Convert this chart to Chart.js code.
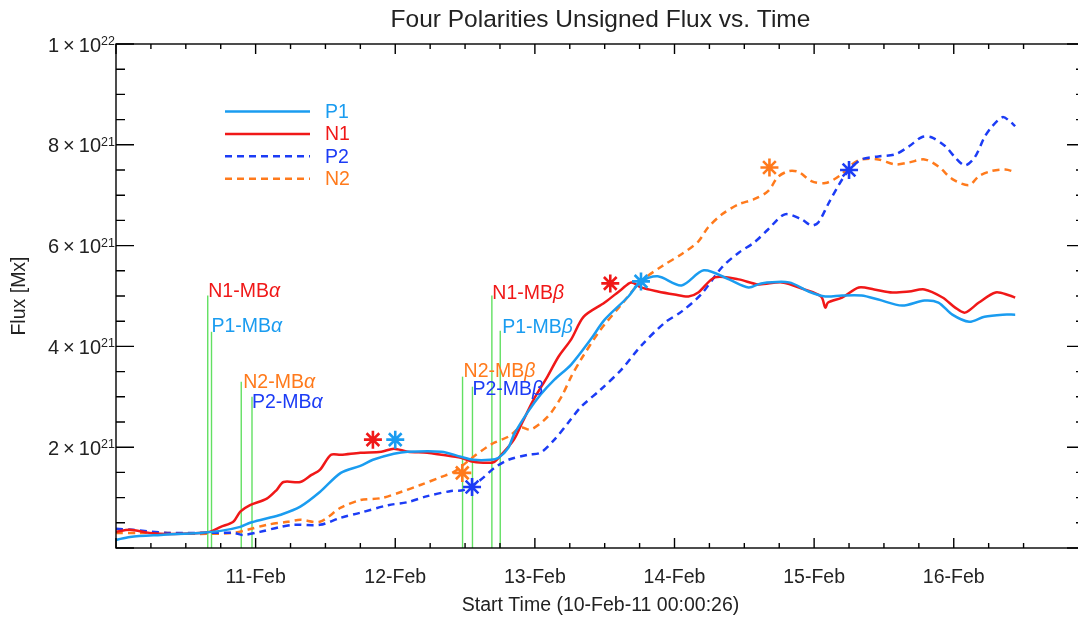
<!DOCTYPE html>
<html>
<head>
<meta charset="utf-8">
<script src="https://cdn.jsdelivr.net/npm/chart.js@4.4.1/dist/chart.umd.min.js"></script>
<style>
  html, body { margin: 0; padding: 0; background: #fff; overflow: hidden; }
  canvas { display: block; }
</style>
</head>
<body>
<canvas id="chart" width="1103" height="618"></canvas>
<script>
// time in days after 10-Feb-11 00:00:26, flux in units of 1e21 Mx
const p1T = [0,0.10,0.32,0.60,0.75,0.89,0.96,1.07,1.18,1.32,1.46,1.61,1.75,1.84,1.99,2.09,2.33,2.47,2.56,2.68,2.74,2.81,2.85,2.95,3.04,3.14,3.26,3.40,3.50,3.67,3.76,3.88,4.05,4.21,4.39,4.53,4.62,4.82,4.96,5.08,5.20,5.34,5.46,5.63,5.79,5.89,5.99,6.11,6.22,6.35,6.44];
const p1V = [0.16,0.22,0.26,0.30,0.34,0.42,0.50,0.58,0.66,0.82,1.11,1.49,1.63,1.75,1.87,1.91,1.91,1.81,1.75,1.75,1.79,1.99,2.25,2.70,3.04,3.34,3.64,4.14,4.53,4.99,5.29,5.39,5.21,5.51,5.33,5.17,5.25,5.27,5.09,4.99,5.01,5.01,4.93,4.81,4.91,4.87,4.63,4.49,4.59,4.63,4.63];

const n1T = [0,0.10,0.24,0.37,0.60,0.67,0.75,0.84,0.89,0.96,1.08,1.15,1.20,1.32,1.40,1.46,1.54,1.61,1.75,1.90,1.99,2.09,2.23,2.33,2.47,2.56,2.66,2.71,2.76,2.85,2.91,2.99,3.09,3.17,3.26,3.35,3.50,3.62,3.69,3.76,3.88,4.00,4.10,4.17,4.29,4.46,4.60,4.77,4.93,5.05,5.08,5.10,5.20,5.32,5.43,5.56,5.68,5.79,5.92,6.01,6.08,6.18,6.30,6.40,6.44];
const n1V = [0.32,0.36,0.30,0.28,0.30,0.32,0.42,0.52,0.72,0.85,0.98,1.15,1.31,1.31,1.45,1.55,1.85,1.85,1.89,1.91,1.97,1.91,1.89,1.85,1.79,1.71,1.69,1.71,1.85,2.15,2.49,2.94,3.40,3.80,4.14,4.59,4.87,5.13,5.27,5.17,5.09,5.03,4.99,5.07,5.37,5.33,5.23,5.27,5.13,4.99,4.77,4.87,4.97,5.17,5.13,5.07,5.09,5.13,4.97,4.77,4.67,4.87,5.07,5.01,4.97];

const p2T = [0,0.12,0.37,0.60,0.84,0.91,1.03,1.18,1.27,1.46,1.61,1.75,1.95,2.09,2.23,2.40,2.49,2.61,2.71,2.81,2.95,3.04,3.14,3.24,3.33,3.47,3.62,3.76,3.93,4.05,4.19,4.34,4.46,4.57,4.67,4.79,4.91,4.98,5.03,5.10,5.18,5.25,5.34,5.46,5.58,5.68,5.77,5.84,5.94,6.01,6.08,6.15,6.22,6.27,6.35,6.40,6.44];
const p2V = [0.38,0.36,0.30,0.30,0.30,0.26,0.32,0.42,0.46,0.46,0.60,0.70,0.85,0.91,1.03,1.13,1.15,1.35,1.59,1.75,1.85,1.89,2.15,2.49,2.80,3.14,3.54,4.01,4.47,4.69,5.03,5.57,5.86,6.06,6.32,6.62,6.52,6.40,6.46,6.82,7.22,7.50,7.71,7.77,7.81,7.97,8.15,8.15,7.97,7.75,7.59,7.75,8.15,8.35,8.55,8.47,8.37];

const n2T = [0,0.17,0.37,0.60,0.84,0.94,1.08,1.23,1.32,1.46,1.61,1.75,1.90,2.04,2.18,2.33,2.42,2.56,2.66,2.71,2.81,2.90,2.97,3.09,3.19,3.26,3.33,3.47,3.62,3.76,3.91,4.05,4.17,4.24,4.34,4.46,4.57,4.67,4.74,4.82,4.89,4.98,5.08,5.18,5.27,5.34,5.46,5.58,5.68,5.79,5.89,5.99,6.11,6.18,6.27,6.37,6.44];
const n2V = [0.30,0.30,0.30,0.28,0.30,0.36,0.46,0.52,0.56,0.52,0.80,0.95,0.99,1.11,1.25,1.41,1.51,1.81,2.01,2.09,2.21,2.39,2.35,2.60,3.00,3.40,3.74,4.33,4.83,5.29,5.59,5.83,6.08,6.36,6.62,6.82,6.92,7.08,7.36,7.48,7.46,7.28,7.24,7.38,7.61,7.71,7.71,7.61,7.65,7.71,7.57,7.32,7.20,7.38,7.48,7.51,7.46];

// asterisk markers per polarity
const markT = { P1: [2.00, 3.76], N1: [1.84, 3.54], P2: [2.55, 5.25], N2: [2.48, 4.68] };
const markV = { P1: [2.15, 5.29], N1: [2.15, 5.25], P2: [1.21, 7.50], N2: [1.49, 7.55] };

// magnetic-bipole onset lines
const mbT = [0.657, 0.684, 0.897, 0.974, 2.482, 2.553, 2.692, 2.752];
const mbTop = [5.01, 4.29, 3.30, 3.00, 3.40, 3.20, 5.01, 4.31];
const mbPol = ['N1', 'P1', 'N2', 'P2', 'N2', 'P2', 'N1', 'P1'];
const mbGreek = ['α', 'α', 'α', 'α', 'β', 'β', 'β', 'β'];

// axis ticks
const xTickDays = [1, 2, 3, 4, 5, 6];
const xTickText = ['11-Feb', '12-Feb', '13-Feb', '14-Feb', '15-Feb', '16-Feb'];
const yTickVals = [2, 4, 6, 8, 10];
const yTickBase = ['2\u2009×\u200910', '4\u2009×\u200910', '6\u2009×\u200910', '8\u2009×\u200910', '1\u2009×\u200910'];
const yTickExp = ['21', '21', '21', '21', '22'];

const TITLE = 'Four Polarities Unsigned Flux vs. Time';
const FONT = "'Liberation Sans', Arial, Helvetica, sans-serif";
const colors = { P1: '#1a9cf0', N1: '#f01818', P2: '#1c3cf5', N2: '#ff7a1c' };
const dashes = { P1: [], N1: [], P2: [7, 5], N2: [7, 5] };
const mbDx = [0.5, 0, 2, 0, 1, 0, 0.5, 2];
const mbDy = [2, 0, 6, 11, 0, 8, 4, 2];

const toPts = (t, v) => t.map((d, i) => ({ x: d, y: v[i] }));

const curves = [
  ['P1', p1T, p1V], ['N1', n1T, n1V], ['P2', p2T, p2V], ['N2', n2T, n2V],
].map(([name, t, v]) => ({
  label: name,
  data: toPts(t, v),
  borderColor: colors[name],
  borderWidth: 2.5,
  borderDash: dashes[name],
  pointRadius: 0,
  tension: 0.3,
  fill: false,
  order: 1,
}));

const stars = Object.keys(markT).map(name => ({
  label: name + ' mark',
  data: toPts(markT[name], markV[name]),
  showLine: false,
  pointStyle: 'star',
  pointRadius: 9,
  pointBorderWidth: 2.6,
  borderColor: colors[name],
  backgroundColor: colors[name],
  order: 0,
}));

const mbLines = mbT.map((t, i) => ({
  label: mbPol[i] + '-MB' + mbGreek[i],
  data: [{ x: t, y: 0 }, { x: t, y: mbTop[i] }],
  borderColor: '#62e062',
  borderWidth: 1.4,
  pointRadius: 0,
  order: 3,
}));

const boxTicks = {
  id: 'boxTicks',
  afterDraw(chart) {
    const { ctx, chartArea: a, scales: { x, y } } = chart;
    ctx.save();
    ctx.strokeStyle = '#000';
    ctx.lineWidth = 1.4;
    ctx.strokeRect(a.left, a.top, a.right - a.left, a.bottom - a.top);
    ctx.beginPath();
    x.ticks.forEach(tk => {
      const q = tk.value * 4;
      if (Math.abs(q - Math.round(q)) > 1e-6) return;
      const px = x.getPixelForValue(tk.value);
      const len = Math.round(q) % 4 === 0 ? 10 : 5;
      ctx.moveTo(px, a.bottom); ctx.lineTo(px, a.bottom - len);
      ctx.moveTo(px, a.top); ctx.lineTo(px, a.top + len);
    });
    y.ticks.forEach(tk => {
      const py = y.getPixelForValue(tk.value);
      const len = tk.value % 2 === 0 ? 18 : 9;
      ctx.moveTo(a.left, py); ctx.lineTo(a.left + len, py);
      ctx.moveTo(a.right, py); ctx.lineTo(a.right - len, py);
    });
    ctx.stroke();

    // y tick labels with raised exponents
    ctx.fillStyle = '#222';
    yTickVals.forEach((v, i) => {
      const py = y.getPixelForValue(v);
      ctx.font = '20px ' + FONT;
      ctx.textAlign = 'right';
      ctx.textBaseline = 'middle';
      ctx.fillText(yTickBase[i], a.left - 15, py + 2);
      ctx.font = '12.5px ' + FONT;
      ctx.textAlign = 'left';
      ctx.textBaseline = 'alphabetic';
      ctx.fillText(yTickExp[i], a.left - 15, py + 1);
    });

    // title centred over the plot box
    ctx.font = '24.5px ' + FONT;
    ctx.textAlign = 'center';
    ctx.textBaseline = 'middle';
    ctx.fillText(TITLE, (a.left + a.right) / 2, 20);
    ctx.restore();
  }
};

const keyBox = {
  id: 'keyBox',
  afterDatasetsDraw(chart) {
    const { ctx } = chart;
    ctx.save();
    ctx.font = '19.5px ' + FONT;
    ctx.textBaseline = 'middle';
    chart.data.datasets.slice(0, 4).forEach((ds, i) => {
      const yy = 111.5 + i * 22.4;
      ctx.strokeStyle = ds.borderColor;
      ctx.lineWidth = ds.borderWidth;
      ctx.setLineDash(ds.borderDash);
      ctx.beginPath();
      ctx.moveTo(225, yy);
      ctx.lineTo(310, yy);
      ctx.stroke();
      ctx.setLineDash([]);
      ctx.fillStyle = ds.borderColor;
      ctx.fillText(ds.label, 325, yy + 1);
    });
    ctx.restore();
  }
};

const mbText = {
  id: 'mbText',
  afterDatasetsDraw(chart) {
    const { ctx, scales: { x, y } } = chart;
    ctx.save();
    ctx.textBaseline = 'alphabetic';
    mbT.forEach((t, i) => {
      const px = x.getPixelForValue(t) + mbDx[i];
      const py = y.getPixelForValue(mbTop[i]) + mbDy[i];
      const name = mbPol[i] + '-MB';
      ctx.fillStyle = colors[mbPol[i]];
      ctx.font = '19.5px ' + FONT;
      ctx.fillText(name, px, py);
      const w = ctx.measureText(name).width;
      ctx.font = 'italic 19.5px ' + FONT;
      ctx.fillText(mbGreek[i], px + w, py);
    });
    ctx.restore();
  }
};

new Chart(document.getElementById('chart'), {
  type: 'line',
  data: { datasets: [...curves, ...stars, ...mbLines] },
  plugins: [boxTicks, keyBox, mbText],
  options: {
    responsive: false,
    animation: false,
    layout: { padding: { left: 0, right: 7, top: 44, bottom: 0 } },
    plugins: {
      legend: { display: false },
      tooltip: { enabled: false },
      title: { display: false },
    },
    scales: {
      x: {
        type: 'linear',
        min: 0,
        max: 6.94,
        afterFit: s => { s.height = 70; },
        grid: { display: false, drawTicks: false },
        border: { display: false },
        ticks: {
          stepSize: 0.25,
          autoSkip: false,
          maxRotation: 0,
          padding: 18,
          color: '#222',
          font: { family: FONT, size: 19.5 },
          callback: v => { const i = xTickDays.indexOf(v); return i < 0 ? '' : xTickText[i]; },
        },
        title: {
          display: true,
          text: 'Start Time (10-Feb-11 00:00:26)',
          color: '#222',
          font: { family: FONT, size: 19.5 },
          padding: { top: 0, bottom: 1 },
        },
      },
      y: {
        min: 0,
        max: 10,
        afterFit: s => { s.width = 116; },
        grid: { display: false, drawTicks: false },
        border: { display: false },
        ticks: { stepSize: 0.5, autoSkip: false, callback: () => '' },
        title: {
          display: true,
          text: 'Flux [Mx]',
          color: '#222',
          font: { family: FONT, size: 19.5 },
          padding: { top: 8, bottom: 0 },
        },
      },
    },
  },
});
</script>
</body>
</html>
